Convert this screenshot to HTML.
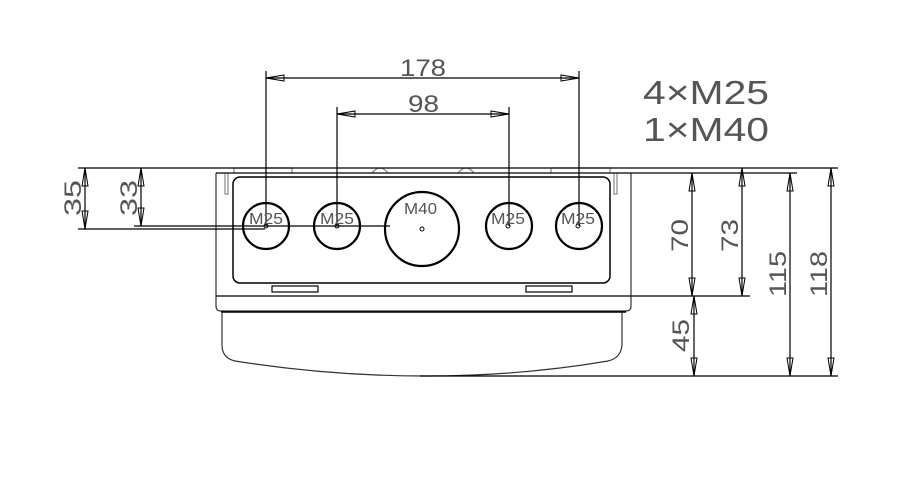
<!DOCTYPE html>
<html><head><style>
html,body{margin:0;padding:0;background:#fff;}
svg{display:block;}
text{font-family:"Liberation Sans",sans-serif;fill:#555;}
</style></head><body>
<svg width="923" height="486" viewBox="0 0 923 486" xmlns="http://www.w3.org/2000/svg">
<g fill="none" stroke="#000" stroke-width="1.2">
<!-- box -->
<path d="M216,173 L216,306 Q216,311 221,311 L626,311 Q631,311 631,306 L631,173" stroke="#333"/>
<line x1="216" y1="296" x2="631" y2="296"/>
<rect x="233" y="177" width="377" height="106" rx="7" stroke-width="1.5"/>
<rect x="272" y="286" width="46" height="6"/>
<rect x="526" y="286" width="46" height="6"/>
<line x1="221" y1="312" x2="626" y2="312" stroke-width="1.6"/>
<path d="M222,312 L222,345 Q222,358 235,361 Q330,376 425,376 Q520,376 608,361 Q621,358 622,345 L622,312" stroke="#333"/>
<!-- side tabs -->
<path d="M225,173 L225,194 L228,194 L228,173" stroke="#888"/>
<path d="M614,173 L614,194 L617,194 L617,173" stroke="#888"/>
<path d="M234,173 L234,168 L292,168 L292,173" stroke="#888"/>
<path d="M551,173 L551,168 L610,168 L610,173" stroke="#888"/>
<path d="M372,173 Q380,163 388,173" stroke="#888"/>
<path d="M458,173 Q466,163 474,173" stroke="#888"/>
<!-- horizontal ref lines -->
<line x1="78" y1="168" x2="838" y2="168"/>
<line x1="216" y1="173" x2="797" y2="173"/>
<line x1="631" y1="296" x2="750" y2="296"/>
<line x1="420" y1="376" x2="838" y2="376"/>
<line x1="78" y1="229" x2="265" y2="229"/>
<line x1="134" y1="226" x2="390" y2="226"/>
<!-- holes -->
<g stroke-width="2.2">
<circle cx="266" cy="226" r="23"/>
<circle cx="337" cy="226" r="23"/>
<circle cx="422" cy="229" r="37"/>
<circle cx="509" cy="226" r="23"/>
<circle cx="579" cy="226" r="23"/>
</g>
<g stroke-width="1">
<circle cx="266" cy="226" r="2"/><circle cx="337" cy="226" r="2"/><circle cx="422" cy="229" r="2"/><circle cx="508" cy="226" r="2"/><circle cx="578" cy="226" r="2"/>
</g>
<!-- extension lines -->
<line x1="266" y1="71" x2="266" y2="226"/>
<line x1="579" y1="71" x2="579" y2="226"/>
<line x1="337" y1="107" x2="337" y2="226"/>
<line x1="509" y1="107" x2="509" y2="226"/>
<!-- dim lines -->
<line x1="266" y1="78" x2="579" y2="78"/>
<line x1="337" y1="114" x2="509" y2="114"/>
<line x1="85" y1="168" x2="85" y2="229"/>
<line x1="141" y1="168" x2="141" y2="226"/>
<line x1="692" y1="173" x2="692" y2="296"/>
<line x1="742" y1="168" x2="742" y2="296"/>
<line x1="694" y1="296" x2="694" y2="376"/>
<line x1="790" y1="173" x2="790" y2="376"/>
<line x1="831" y1="168" x2="831" y2="376"/>
</g>
<!-- arrowheads -->
<g fill="none" stroke="#000" stroke-width="1">
<path d="M266,78 L284,75 L284,81 Z"/><path d="M579,78 L561,75 L561,81 Z"/>
<path d="M337,114 L355,111 L355,117 Z"/><path d="M509,114 L491,111 L491,117 Z"/>
<path d="M85,168 L82,186 L88,186 Z"/><path d="M85,229 L82,211 L88,211 Z"/>
<path d="M141,168 L138,186 L144,186 Z"/><path d="M141,226 L138,208 L144,208 Z"/>
<path d="M692,173 L689,191 L695,191 Z"/><path d="M692,296 L689,278 L695,278 Z"/>
<path d="M742,168 L739,186 L745,186 Z"/><path d="M742,296 L739,278 L745,278 Z"/>
<path d="M694,296 L691,314 L697,314 Z"/><path d="M694,376 L691,358 L697,358 Z"/>
<path d="M790,173 L787,191 L793,191 Z"/><path d="M790,376 L787,358 L793,358 Z"/>
<path d="M831,168 L828,186 L834,186 Z"/><path d="M831,376 L828,358 L834,358 Z"/>
</g>
<!-- texts -->
<text x="400" y="76" font-size="24" textLength="46" lengthAdjust="spacingAndGlyphs">178</text>
<text x="408" y="112" font-size="24" textLength="31" lengthAdjust="spacingAndGlyphs">98</text>
<text x="643" y="104" font-size="33" textLength="126" lengthAdjust="spacingAndGlyphs">4×M25</text>
<text x="643" y="141" font-size="33" textLength="126" lengthAdjust="spacingAndGlyphs">1×M40</text>
<g font-size="16">
<text x="249" y="224" textLength="34" lengthAdjust="spacingAndGlyphs">M25</text>
<text x="320" y="224" textLength="34" lengthAdjust="spacingAndGlyphs">M25</text>
<text x="404" y="214" textLength="33" lengthAdjust="spacingAndGlyphs">M40</text>
<text x="491" y="224" textLength="34" lengthAdjust="spacingAndGlyphs">M25</text>
<text x="561" y="224" textLength="34" lengthAdjust="spacingAndGlyphs">M25</text>
</g>
<g font-size="24">
<text transform="translate(81,216) rotate(-90)" textLength="36" lengthAdjust="spacingAndGlyphs">35</text>
<text transform="translate(137,216) rotate(-90)" textLength="36" lengthAdjust="spacingAndGlyphs">33</text>
<text transform="translate(688,252) rotate(-90)" textLength="33" lengthAdjust="spacingAndGlyphs">70</text>
<text transform="translate(738,252) rotate(-90)" textLength="33" lengthAdjust="spacingAndGlyphs">73</text>
<text transform="translate(689,352) rotate(-90)" textLength="33" lengthAdjust="spacingAndGlyphs">45</text>
<text transform="translate(786,297) rotate(-90)" textLength="46" lengthAdjust="spacingAndGlyphs">115</text>
<text transform="translate(827,297) rotate(-90)" textLength="46" lengthAdjust="spacingAndGlyphs">118</text>
</g>
</svg>
</body></html>
